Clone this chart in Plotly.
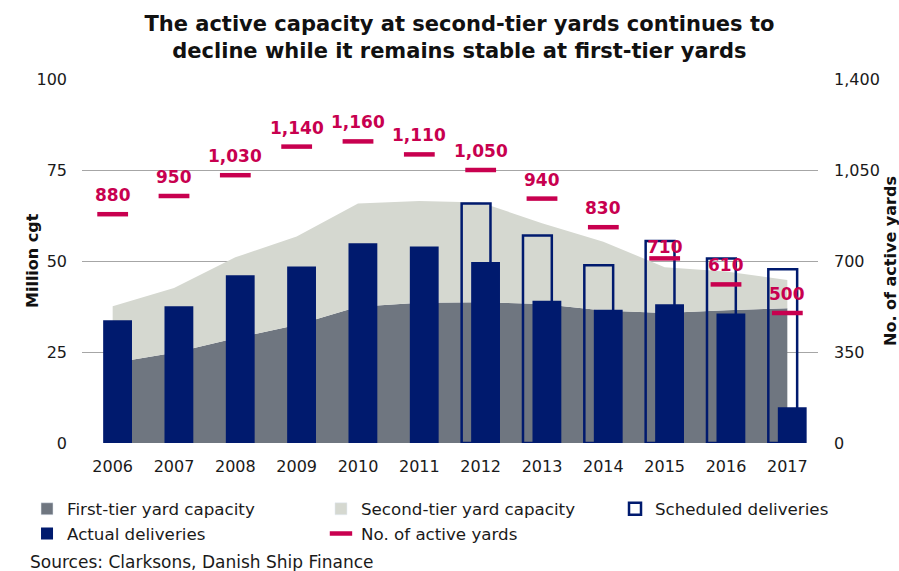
import plotly.graph_objects as go

# ------------------------------------------------------------------
# Data
# ------------------------------------------------------------------
years = ["2006", "2007", "2008", "2009", "2010", "2011",
         "2012", "2013", "2014", "2015", "2016", "2017"]
first_tier = [22.0, 24.8, 28.8, 32.4, 37.4, 38.5, 38.7, 38.2, 36.4, 35.7, 36.5, 37.0]
second_tier = [15.6, 17.8, 22.2, 24.3, 28.4, 28.0, 27.4, 22.2, 18.9, 12.6, 10.6, 7.8]
actual = [33.7, 37.6, 46.1, 48.5, 54.9, 54.0, 49.7, 39.1, 36.6, 38.1, 35.6, 9.8]
sched_years = ["2012", "2013", "2014", "2015", "2016", "2017"]
scheduled = [65.8, 57.0, 48.8, 55.5, 50.7, 47.7]
yards = [880, 950, 1030, 1140, 1160, 1110, 1050, 940, 830, 710, 610, 500]

NAVY = "#001A6E"
DARK_GREY = "#6F7680"
LIGHT_GREY = "#D5D8D0"
CRIMSON = "#C8004F"
GRID = "#A6A6A6"
TXT = "#1A1A1A"
FONT = "DejaVu Sans, Verdana, sans-serif"

fig = go.Figure()

# stacked capacity areas (base layer, y)
fig.add_trace(go.Scatter(
    x=years, y=first_tier, name="First-tier yard capacity",
    stackgroup="cap", mode="none", fillcolor=DARK_GREY, showlegend=False))
fig.add_trace(go.Scatter(
    x=years, y=second_tier, name="Second-tier yard capacity",
    stackgroup="cap", mode="none", fillcolor=LIGHT_GREY, showlegend=False))

# legend entries as small squares, like the original
fig.add_trace(go.Bar(x=[None], y=[None], name="First-tier yard capacity",
                     marker_color=DARK_GREY, legend="legend"))
fig.add_trace(go.Bar(x=[None], y=[None], name="Second-tier yard capacity",
                     marker_color=LIGHT_GREY, legend="legend2"))

# bars live on an overlaying axis so they sit above the areas
fig.add_trace(go.Bar(
    x=sched_years, y=scheduled, name="Scheduled deliveries", yaxis="y2",
    width=0.47, offset=-0.31,
    marker=dict(color="rgba(0,0,0,0)", line=dict(color=NAVY, width=2.5)),
    legend="legend3"))
fig.add_trace(go.Bar(
    x=years, y=actual, name="Actual deliveries", yaxis="y2",
    width=0.47, offset=-0.155,
    marker=dict(color=NAVY, line=dict(width=0)),
    legend="legend"))

# active yards on the right-hand axis, top layer
fig.add_trace(go.Scatter(
    x=years, y=yards, name="No. of active yards", yaxis="y3",
    mode="markers",
    marker=dict(symbol="line-ew", size=22, line=dict(color=CRIMSON, width=4.5)),
    legend="legend2"))

label_shift = {"2015": 11}
for i, (yr, v) in enumerate(zip(years, yards)):
    fig.add_annotation(
        x=i, y=v, xref="x", yref="y3", text=f"{v:,}", showarrow=False,
        yshift=label_shift.get(yr, 19),
        font=dict(family=FONT, size=17, color=CRIMSON, weight="bold"))

# axis titles and source note
fig.add_annotation(
    x=0, y=0.5, xref="paper", yref="paper", xanchor="center", yanchor="middle",
    xshift=-50, text="<b>Million cgt</b>", textangle=-90, showarrow=False,
    font=dict(family=FONT, size=16, color="#111"))
fig.add_annotation(
    x=1, y=0.5, xref="paper", yref="paper", xanchor="center", yanchor="middle",
    xshift=72, text="<b>No. of active yards</b>", textangle=-90, showarrow=False,
    font=dict(family=FONT, size=16, color="#111"))
fig.add_annotation(
    x=0, y=0, xref="paper", yref="paper", xanchor="left", yanchor="middle",
    xshift=-54, yshift=-119, text="Sources: Clarksons, Danish Ship Finance",
    showarrow=False, font=dict(family=FONT, size=17, color=TXT))

legend_style = dict(orientation="v", xanchor="left", yanchor="top",
                    traceorder="normal", y=-0.133,
                    font=dict(family=FONT, size=16.7, color=TXT),
                    bgcolor="rgba(0,0,0,0)")

fig.update_layout(
    width=899, height=571,
    margin=dict(l=82, r=81, t=79, b=128, autoexpand=False),
    paper_bgcolor="white", plot_bgcolor="white",
    barmode="overlay",
    title=dict(
        text="The active capacity at second-tier yards continues to<br>"
             "decline while it remains stable at first-tier yards",
        xref="container", x=0.511, xanchor="center",
        yref="container", y=0.946, yanchor="top",
        font=dict(family=FONT, size=21, color="#111", weight="bold")),
    xaxis=dict(type="category", categoryorder="array", categoryarray=years,
               range=[-0.5, 11.5],
               showgrid=False, ticks="", showline=False, ticklabelstandoff=12,
               tickfont=dict(family=FONT, size=16, color=TXT)),
    yaxis=dict(range=[0, 100], tickvals=[0, 25, 50, 75, 100],
               showgrid=True, gridcolor=GRID, gridwidth=1, zeroline=False,
               ticks="", ticklabelstandoff=14,
               tickfont=dict(family=FONT, size=16, color=TXT)),
    yaxis2=dict(range=[0, 100], overlaying="y", visible=False),
    yaxis3=dict(range=[0, 1400], tickvals=[0, 350, 700, 1050, 1400],
                tickformat=",", overlaying="y", side="right",
                showgrid=False, zeroline=False, ticks="", ticklabelstandoff=15,
                tickfont=dict(family=FONT, size=16, color=TXT)),
    legend=dict(x=-0.0747, **legend_style),
    legend2=dict(x=0.3247, **legend_style),
    legend3=dict(x=0.7242, **legend_style),
    showlegend=True,
)

fig.write_html("out.html", config={"displayModeBar": False},
               post_script="document.body.style.margin='0px';")
